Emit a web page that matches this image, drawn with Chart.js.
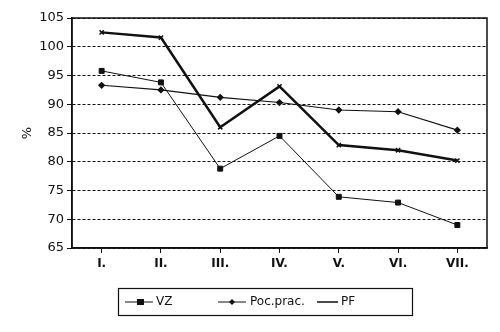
<!DOCTYPE html>
<html>
<head>
<meta charset="utf-8">
<script src="https://cdn.jsdelivr.net/npm/chart.js@4"></script>
<style>
  html, body { margin: 0; padding: 0; background: #fff; }
  #wrap { width: 500px; height: 332px; }
</style>
</head>
<body>
<div id="wrap"><canvas id="chart" width="500" height="332"></canvas></div>
<script>
const months = ['I.', 'II.', 'III.', 'IV.', 'V.', 'VI.', 'VII.'];
const vz = [95.8, 93.8, 78.8, 84.5, 73.9, 72.9, 69.0];
const pocPrac = [93.3, 92.5, 91.2, 90.3, 89.0, 88.7, 85.5];
const pf = [102.5, 101.6, 86.0, 93.1, 82.9, 82.0, 80.2];
const yTicks = [65, 70, 75, 80, 85, 90, 95, 100, 105];

const ink = '#111';

// legend + frame + axis title drawn by hand
const extras = {
    id: 'extras',
    afterDraw(chart) {
        const ctx = chart.ctx;
        const a = chart.chartArea;
        ctx.save();
        ctx.strokeStyle = ink;
        ctx.lineWidth = 1.5;
        ctx.strokeRect(a.left, a.top, a.right - a.left, a.bottom - a.top);

        ctx.fillStyle = ink;
        ctx.font = '13px "DejaVu Sans"';
        ctx.translate(28, 133);
        ctx.rotate(-Math.PI / 2);
        ctx.textAlign = 'center';
        ctx.textBaseline = 'middle';
        ctx.fillText('%', 0, 0);
        ctx.restore();

        // legend box
        ctx.save();
        ctx.strokeStyle = ink;
        ctx.lineWidth = 1.2;
        ctx.strokeRect(118.5, 288.5, 294, 27);
        ctx.font = '12px "DejaVu Sans"';
        ctx.fillStyle = ink;
        ctx.textBaseline = 'middle';
        const ly = 302;
        ctx.lineWidth = 1;
        ctx.beginPath(); ctx.moveTo(125, ly); ctx.lineTo(153, ly); ctx.stroke();
        ctx.fillRect(137, ly - 3, 7, 6);
        ctx.fillText('VZ', 156, ly);
        ctx.beginPath(); ctx.moveTo(218, ly); ctx.lineTo(246, ly); ctx.stroke();
        ctx.beginPath();
        ctx.moveTo(232, ly - 3); ctx.lineTo(235, ly); ctx.lineTo(232, ly + 3); ctx.lineTo(229, ly);
        ctx.closePath(); ctx.fill();
        ctx.fillText('Poc.prac.', 250, ly);
        ctx.lineWidth = 1.5;
        ctx.beginPath(); ctx.moveTo(317, ly); ctx.lineTo(338, ly); ctx.stroke();
        ctx.fillText('PF', 341, ly);
        ctx.restore();
    }
};

new Chart(document.getElementById('chart'), {
    type: 'line',
    data: {
        labels: months,
        datasets: [
            {
                label: 'VZ',
                data: vz,
                borderColor: ink,
                backgroundColor: ink,
                borderWidth: 1,
                pointStyle: 'rect',
                pointRadius: 3.5,
                tension: 0
            },
            {
                label: 'Poc.prac.',
                data: pocPrac,
                borderColor: ink,
                backgroundColor: ink,
                borderWidth: 1.2,
                pointStyle: 'rectRot',
                pointRadius: 2.8,
                tension: 0
            },
            {
                label: 'PF',
                data: pf,
                borderColor: ink,
                backgroundColor: ink,
                borderWidth: 2.5,
                pointStyle: 'crossRot',
                pointRadius: 3,
                pointBorderWidth: 1.5,
                tension: 0
            }
        ]
    },
    options: {
        responsive: false,
        animation: false,
        layout: { padding: { top: 18, right: 13, left: 0, bottom: 0 } },
        plugins: {
            legend: { display: false },
            tooltip: { enabled: false }
        },
        scales: {
            x: {
                offset: true,
                grid: {
                    display: true,
                    drawOnChartArea: false,
                    drawTicks: true,
                    tickLength: 5,
                    color: ink,
                    offset: false
                },
                border: { color: ink, width: 1.5 },
                ticks: {
                    color: ink,
                    font: { family: '"DejaVu Sans"', size: 12, weight: 'bold' },
                    padding: 4
                },
                afterFit(scale) { scale.height = 84; }
            },
            y: {
                min: 65,
                max: 105,
                afterBuildTicks(scale) { scale.ticks = yTicks.map(v => ({ value: v })); },
                grid: {
                    color: ink,
                    lineWidth: 1,
                    tickLength: 5,
                    tickColor: ink,
                    tickBorderDash: [],
                    borderDash: [3, 2]
                },
                border: { color: ink, width: 1.5, dash: [3, 2] },
                ticks: {
                    color: ink,
                    font: { family: '"DejaVu Sans"', size: 13 },
                    padding: 3
                },
                afterFit(scale) { scale.width = 72; }
            }
        }
    },
    plugins: [extras]
});
</script>
</body>
</html>
